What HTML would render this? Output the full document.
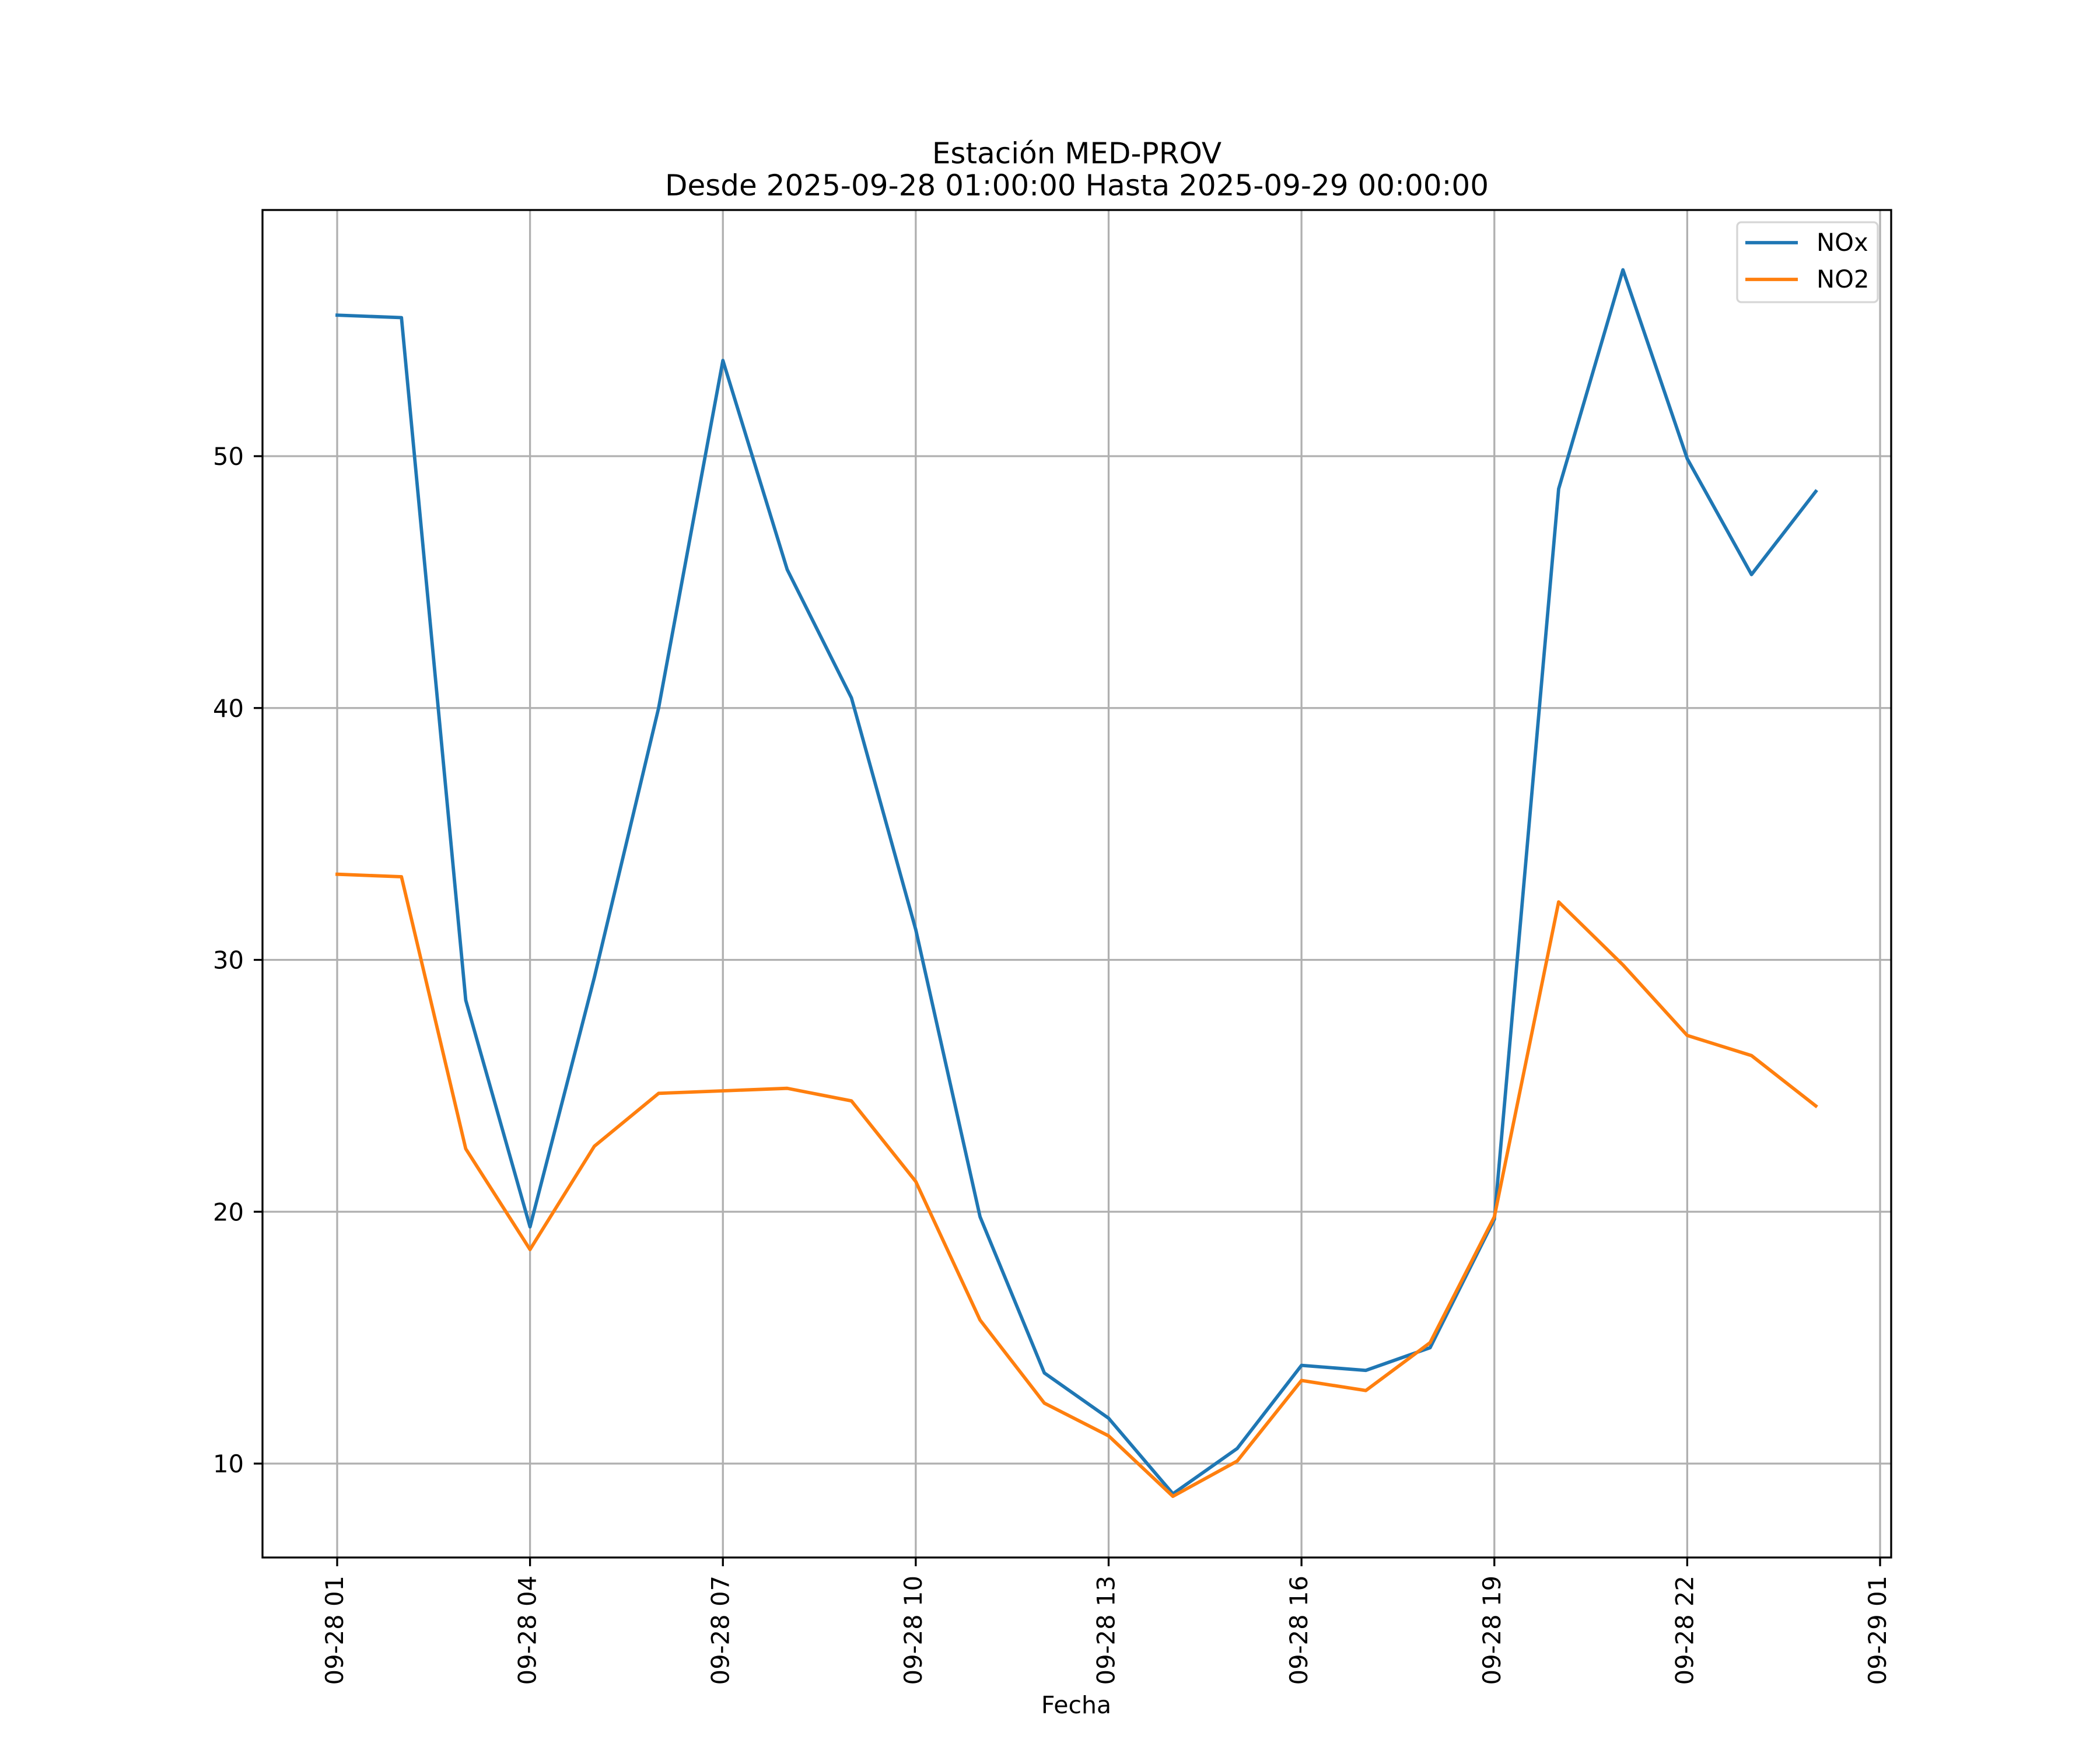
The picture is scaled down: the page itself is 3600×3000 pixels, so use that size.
<!DOCTYPE html>
<html><head><meta charset="utf-8"><style>
html,body{margin:0;padding:0;background:#fff;}
svg{display:block;font-family:"DejaVu Sans","Liberation Sans",sans-serif;}
</style></head><body>
<svg id="chart" width="3600" height="3000" viewBox="0 0 3600 3000" xmlns="http://www.w3.org/2000/svg">
<rect width="3600" height="3000" fill="#fff"/>
<text x="1846" y="280" font-size="50" text-anchor="middle">Estación MED-PROV</text>
<text x="1846" y="335" font-size="50" text-anchor="middle">Desde 2025-09-28 01:00:00 Hasta 2025-09-29 00:00:00</text>
<g id="grid"></g>
<g id="series"></g>
<rect x="450" y="360" width="2792" height="2310" fill="none" stroke="#000" stroke-width="3.3"/>
<g id="axes"></g>
<text x="1845" y="2937" font-size="41" text-anchor="middle">Fecha</text>
<g>
<rect x="2978" y="381" width="241" height="137" rx="7" fill="#fff" fill-opacity="0.8" stroke="#d6d6d6" stroke-width="3.3"/>
<line x1="2992" y1="416" x2="3082" y2="416" stroke="#1f77b4" stroke-width="5.8"/>
<text x="3114" y="430" font-size="41.7">NOx</text>
<line x1="2992" y1="479" x2="3082" y2="479" stroke="#ff7f0e" stroke-width="5.8"/>
<text x="3114" y="493" font-size="41.7">NO2</text>
</g>
</svg>
<script>
const hours = [1,2,3,4,5,6,7,8,9,10,11,12,13,14,15,16,17,18,19,20,21,22,23,24];
const noxValues = [55.6,55.5,28.4,19.4,29.3,40.0,53.8,45.5,40.4,31.2,19.8,13.6,11.8,8.8,10.6,13.9,13.7,14.6,19.7,48.7,57.4,49.9,45.3,48.6];
const no2Values = [33.4,33.3,22.5,18.5,22.6,24.7,24.8,24.9,24.4,21.2,15.7,12.4,11.1,8.7,10.1,13.3,12.9,14.8,19.8,32.3,29.8,27.0,26.2,24.2];
const yTicks = [10,20,30,40,50];
const xTickHours = [1,4,7,10,13,16,19,22,25];
const xTickLabels = ["09-28 01","09-28 04","09-28 07","09-28 10","09-28 13","09-28 16","09-28 19","09-28 22","09-29 01"];

const NS = "http://www.w3.org/2000/svg";
function xScale(h){ return 578 + (h-1)*(3223-578)/24; }
function yScale(v){ return 2509 - (v-10)*(2509-782)/40; }
function mk(tag, attrs, parent){ const e=document.createElementNS(NS,tag); for(const k in attrs) e.setAttribute(k,attrs[k]); parent.appendChild(e); return e; }

const grid=document.getElementById('grid'), axes=document.getElementById('axes'), series=document.getElementById('series');
yTicks.forEach(v=>{
  const y=yScale(v);
  const g=mk('line',{x1:450,x2:3242,y1:y,y2:y,stroke:'#b0b0b0','stroke-width':3.3},grid);
  
  
  const t=mk('line',{x1:435,x2:450,y1:y,y2:y,stroke:'#000','stroke-width':3.3},axes);
  
  
  const l=mk('text',{x:418,y:y+15,'font-size':41.7,'text-anchor':'end'},axes);
  l.textContent=v;
  
  
});
xTickHours.forEach((h,i)=>{
  const x=xScale(h);
  const g=mk('line',{x1:x,x2:x,y1:360,y2:2670,stroke:'#b0b0b0','stroke-width':3.3},grid);
  
  
  const t=mk('line',{x1:x,x2:x,y1:2670,y2:2685,stroke:'#000','stroke-width':3.3},axes);
  
  
  const l=mk('text',{x:0,y:0,'font-size':41.7,'text-anchor':'end',transform:`translate(${x+10},2701) rotate(-90)`},axes);
  l.textContent=xTickLabels[i];
  
  
});
function drawLine(vals,color,name){
  const pts=vals.map((v,i)=>xScale(hours[i])+','+yScale(v)).join(' ');
  const p=mk('polyline',{points:pts,fill:'none',stroke:color,'stroke-width':5.8,'stroke-linejoin':'round','stroke-linecap':'square'},series);
  
  
}
drawLine(noxValues,'#1f77b4','nox-line');
drawLine(no2Values,'#ff7f0e','no2-line');
</script>
</body></html>
